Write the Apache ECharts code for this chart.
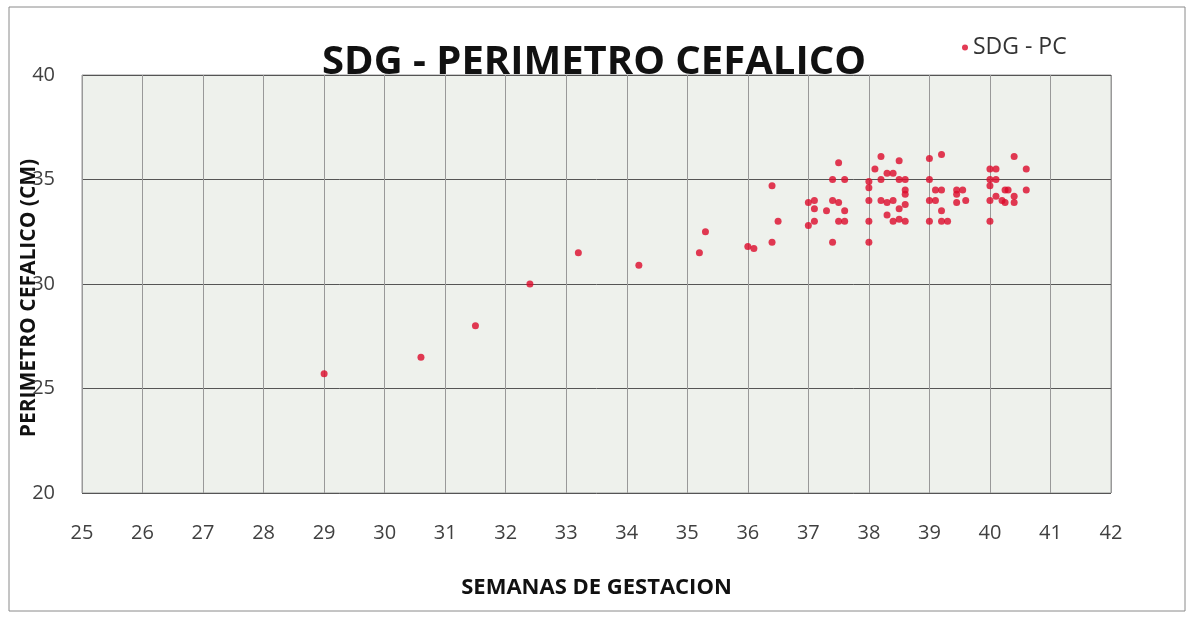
<!DOCTYPE html>
<html>
<head>
<meta charset="utf-8">
<script src="https://cdn.jsdelivr.net/npm/echarts@6/dist/echarts.min.js"></script>
<style>
  html, body { margin: 0; padding: 0; background: #fff; }
  #chart { width: 1188px; height: 618px; }
</style>
</head>
<body>
<div id="chart"></div>
<script>
// semanas de gestacion (x) y perimetro cefalico en cm (y)
const sdg = [
  29.0, 30.6, 31.5, 32.4, 33.2, 34.2, 35.2, 35.3, 36.0, 36.1,
  36.4, 36.4, 36.5, 37.0, 37.1, 37.1, 37.1, 37.0, 37.3, 37.4,
  37.5, 37.6, 37.5, 37.6, 37.4, 37.6, 37.5, 37.4, 38.0, 38.0,
  38.0, 38.0, 38.0, 38.2, 38.1, 38.2, 38.2, 38.3, 38.4, 38.5,
  38.5, 38.6, 38.3, 38.4, 38.6, 38.6, 38.6, 38.5, 38.3, 38.4,
  38.5, 38.6, 39.0, 39.2, 39.0, 39.1, 39.2, 39.0, 39.1, 39.2,
  39.0, 39.2, 39.3, 39.45, 39.55, 39.45, 39.45, 39.6, 40.0, 40.1,
  40.0, 40.1, 40.0, 40.0, 40.0, 40.1, 40.2, 40.25, 40.25, 40.3,
  40.4, 40.4, 40.4, 40.6, 40.6
];
const pc = [
  25.7, 26.5, 28.0, 30.0, 31.5, 30.9, 31.5, 32.5, 31.8, 31.7,
  32.0, 34.7, 33.0, 33.9, 34.0, 33.6, 33.0, 32.8, 33.5, 34.0,
  33.9, 33.5, 33.0, 33.0, 35.0, 35.0, 35.8, 32.0, 34.9, 34.6,
  34.0, 33.0, 32.0, 36.1, 35.5, 35.0, 34.0, 35.3, 35.3, 35.9,
  35.0, 35.0, 33.9, 34.0, 34.5, 34.3, 33.8, 33.6, 33.3, 33.0,
  33.1, 33.0, 36.0, 36.2, 35.0, 34.5, 34.5, 34.0, 34.0, 33.5,
  33.0, 33.0, 33.0, 34.5, 34.5, 34.3, 33.9, 34.0, 35.5, 35.5,
  35.0, 35.0, 34.7, 34.0, 33.0, 34.2, 34.0, 33.9, 34.5, 34.5,
  34.2, 33.9, 36.1, 35.5, 34.5
];
const seriesName = "SDG - PC";

const points = sdg.map(function (x, i) { return [x, pc[i]]; });
const font = "'Open Sans', 'Liberation Sans', sans-serif";

const chart = echarts.init(document.getElementById("chart"));
chart.setOption({
  animation: false,
  backgroundColor: "#ffffff",
  title: {
    text: "SDG - PERIMETRO CEFALICO",
    left: "center",
    top: 38,
    textStyle: { fontFamily: font, fontSize: 40, fontWeight: "bold", color: "#111" }
  },
  legend: {
    data: [seriesName],
    left: 957,
    top: 31,
    icon: "circle",
    itemWidth: 6,
    itemHeight: 6,
    itemGap: 6,
    textStyle: { fontFamily: font, fontSize: 23, color: "#333" }
  },
  graphic: [{
    type: "rect",
    shape: { x: 9, y: 7, width: 1176, height: 604 },
    style: { fill: "none", stroke: "#8a8a8a", lineWidth: 1 },
    silent: true
  }],
  grid: {
    left: 82, top: 75, right: 77, bottom: 125,
    show: true, backgroundColor: "#eef1ec", borderColor: "#999", borderWidth: 1
  },
  xAxis: {
    type: "value",
    min: 25, max: 42, interval: 1,
    name: "SEMANAS DE GESTACION",
    nameLocation: "middle",
    nameGap: 84,
    nameMoveOverlap: false,
    nameTextStyle: { fontFamily: font, fontSize: 22, fontWeight: "bold", color: "#111" },
    axisLine: { show: false },
    axisTick: { show: false },
    axisLabel: { fontFamily: font, fontSize: 20, color: "#404040", margin: 30 },
    splitLine: { show: true, lineStyle: { color: "#999", width: 1 } }
  },
  yAxis: {
    type: "value",
    min: 20, max: 40, interval: 5,
    name: "PERIMETRO CEFALICO (CM)",
    nameLocation: "middle",
    nameGap: 42,
    nameRotate: 90,
    nameMoveOverlap: false,
    nameTextStyle: { fontFamily: font, fontSize: 21, fontWeight: "bold", color: "#111", padding: [0, 28, 0, 0] },
    axisLine: { show: false },
    axisTick: { show: false },
    axisLabel: { fontFamily: font, fontSize: 20, color: "#404040", margin: 27 },
    splitLine: { show: true, lineStyle: { color: "#555", width: 1 } }
  },
  series: [{
    name: seriesName,
    type: "scatter",
    data: points,
    symbol: "circle",
    symbolSize: 7,
    itemStyle: { color: "#dc0a2a" }
  }]
});
</script>
</body>
</html>
